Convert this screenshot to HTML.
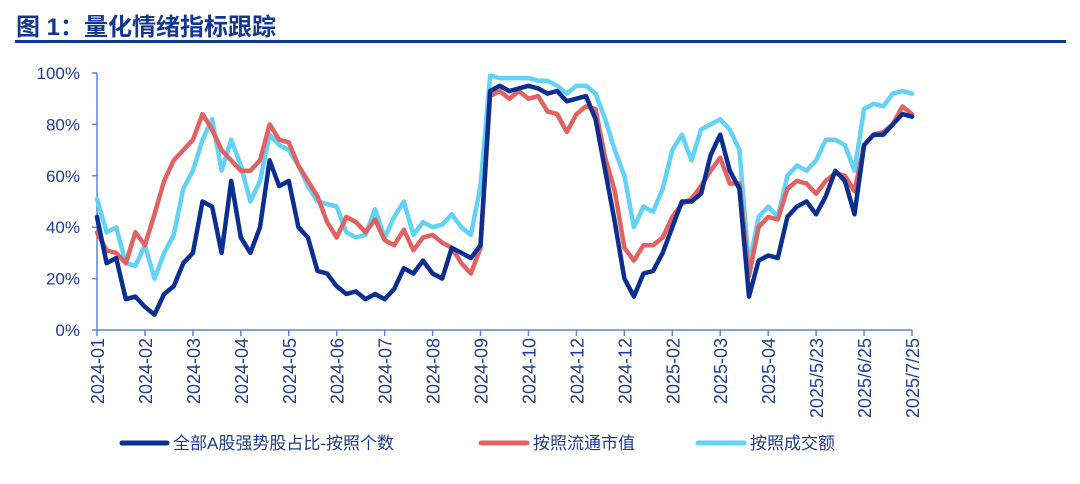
<!DOCTYPE html>
<html><head><meta charset="utf-8">
<style>
html,body{margin:0;padding:0;background:#fff;}
body{width:1080px;height:479px;overflow:hidden;font-family:"Liberation Sans","Noto Sans CJK SC",sans-serif;}
svg text{font-family:"Liberation Sans","Noto Sans CJK SC",sans-serif;}
</style></head>
<body>
<svg id="chart" width="1080" height="479" viewBox="0 0 1080 479" xmlns="http://www.w3.org/2000/svg">
  <text x="16" y="35" font-size="24" font-weight="bold" fill="#16388c">图 1：量化情绪指标跟踪</text>
  <rect x="15" y="40" width="1051" height="3" fill="#0d3a8e"/>
  <g id="axes"></g>
  <g id="series"></g>
  <g id="legend">
    <line x1="122" y1="443" x2="167" y2="443" stroke="#0a2f8f" stroke-width="5" stroke-linecap="round"/>
    <text x="173" y="449" font-size="17" fill="#1f3c8a">全部A股强势股占比-按照个数</text>
    <line x1="481" y1="443" x2="527" y2="443" stroke="#e06262" stroke-width="5" stroke-linecap="round"/>
    <text x="533" y="449" font-size="17" fill="#1f3c8a">按照流通市值</text>
    <line x1="698" y1="443" x2="744" y2="443" stroke="#62d2f7" stroke-width="5" stroke-linecap="round"/>
    <text x="750" y="449" font-size="17" fill="#1f3c8a">按照成交额</text>
  </g>
</svg>
<script>
const categories = ["2024-01","2024-02","2024-03","2024-04","2024-05","2024-06","2024-07","2024-08","2024-09","2024-10","2024-12","2024-12","2025-02","2025-03","2025-04","2025/5/23","2025/6/25","2025/7/25"];
const yTicks = [0,20,40,60,80,100];
const countSeries = [44,26,28,12,13,9,6,14,17,26,30,50,48,30,58,36,30,40,66,56,58,40,36,23,22,17,14,15,12,14,12,16,24,22,27,22,20,32,30,28,33,93,95,93,94,95,94,92,93,89,90,91,82,62,42,20,13,22,23,30,40,50,50,53,68,76,62,55,13,27,29,28,44,48,50,45,52,62,58,45,72,76,76,80,84,83];
const floatCapSeries = [38,31,30,26,38,33,45,58,66,70,74,84,78,70,66,62,62,66,80,74,73,64,58,52,42,36,44,42,38,43,35,33,39,31,36,37,34,32,26,22,32,91,93,90,93,90,91,85,84,77,84,87,86,67,54,32,27,33,33,36,44,49,51,56,62,67,57,57,21,40,44,43,55,58,57,53,58,61,60,54,72,76,77,80,87,84];
const turnoverSeries = [51,38,40,26,25,33,20,30,37,55,62,74,82,62,74,64,50,58,76,72,70,64,56,50,49,48,38,36,37,47,36,44,50,37,42,40,41,45,40,37,56,99,98,98,98,98,97,97,95,92,95,95,92,82,70,60,40,48,46,55,70,76,66,78,80,82,78,70,25,44,48,44,60,64,62,66,74,74,72,62,86,88,87,92,93,92];

const NS="http://www.w3.org/2000/svg";
const X0=97, X1=912, Y0=330, Y1=73;
const N=countSeries.length;
function xIdx(i){return X0+(X1-X0)*i/(N-1);}
function xCat(i){return X0+(X1-X0)*i/(categories.length-1);}
function yVal(v){return Y0-(Y0-Y1)*v/100;}
function mk(tag,attrs,parent){const e=document.createElementNS(NS,tag);for(const k in attrs)e.setAttribute(k,attrs[k]);parent.appendChild(e);return e;}
const axes=document.getElementById('axes');
const axisColor="#5b87cf";
let yl=mk('line',{x1:X0,y1:Y1,x2:X0,y2:Y0,stroke:axisColor,'stroke-width':1.5},axes);


let xl=mk('line',{x1:X0,y1:Y0,x2:X1,y2:Y0,stroke:axisColor,'stroke-width':1.5},axes);


yTicks.forEach(v=>{
  const y=yVal(v);
  let t=mk('line',{x1:X0-5,y1:y,x2:X0,y2:y,stroke:axisColor,'stroke-width':1.5},axes);
  
  
  let tx=mk('text',{x:80,y:y+6,'font-size':17,fill:'#1f3c94','text-anchor':'end'},axes);
  tx.textContent=v+'%';
  
  
});
categories.forEach((c,i)=>{
  const x=xCat(i);
  let t=mk('line',{x1:x,y1:Y0,x2:x,y2:Y0+6,stroke:axisColor,'stroke-width':1.5},axes);
  
  
  let tx=mk('text',{x:0,y:0,'font-size':18,fill:'#1f3c94','text-anchor':'end',transform:`translate(${x+7},${Y0+8}) rotate(-90)`},axes);
  tx.textContent=c;
  
  
});
const series=document.getElementById('series');
function drawLine(vals,color,name){
  const d=vals.map((v,i)=>(i?'L':'M')+xIdx(i).toFixed(1)+','+yVal(v).toFixed(1)).join('');
  let p=mk('path',{d:d,fill:'none',stroke:color,'stroke-width':4.5,'stroke-linejoin':'round','stroke-linecap':'round'},series);
  
  
}
drawLine(turnoverSeries,'#62d2f7','line-turnover');
drawLine(floatCapSeries,'#e06262','line-float-cap');
drawLine(countSeries,'#0a2f8f','line-count');
</script>
</body></html>
